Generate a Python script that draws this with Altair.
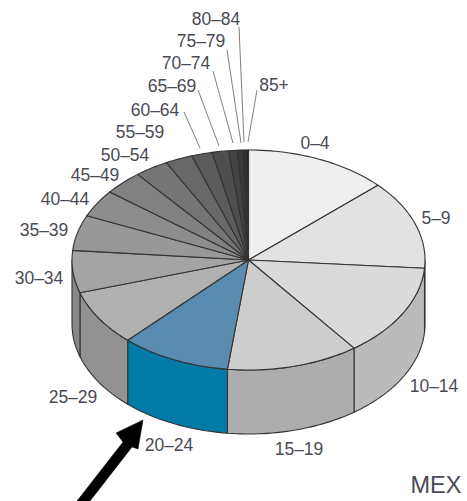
import math
import altair as alt

# Population share by five-year age group (percent of total), clockwise from the top
age_groups = ["0–4", "5–9", "10–14", "15–19", "20–24", "25–29", "30–34", "35–39", "40–44",
              "45–49", "50–54", "55–59", "60–64", "65–69", "70–74", "75–79", "80–84", "85+"]
shares = [13.1, 13.1, 13.6, 12.1, 10.1, 8.2, 6.2, 5.2, 4.0,
          3.6, 3.1, 2.5, 1.9, 1.5, 0.8, 0.5, 0.3, 0.2]

top_colors = ["#efefef", "#e2e2e2", "#dadada", "#cdcdcd", "#5a8cb0", "#b1b1b1", "#a4a4a4",
              "#989898", "#8d8d8d", "#818181", "#757575", "#686868", "#5b5b5b", "#4e4e4e",
              "#434343", "#393939", "#2f2f2f", "#272727"]
side_colors = ["#c4c4c4", "#c4c4c4", "#bbbbbb", "#adadad", "#007ca6", "#929292", "#888888",
               "#808080", "#808080", "#808080", "#808080", "#808080", "#808080", "#808080",
               "#808080", "#808080", "#808080", "#808080"]

# Label anchors in page pixels
label_x = [315, 436, 434, 299, 169, 73, 39, 44, 65, 95, 125, 140, 155, 172, 186, 201, 216, 274]
label_y = [143, 218, 386, 449, 445, 397, 278, 230, 199, 175, 155, 132, 110, 86, 63, 41, 19, 85]

# Leader lines for the narrow slices: label end, rim end
leaders = [
    [[184, 112], [200, 148]],
    [[198, 90], [219, 146]],
    [[213, 71], [233, 143]],
    [[227, 50], [241, 143]],
    [[239, 27], [244, 142]],
    [[257, 90], [248, 142]],
]

arrow_outline = [[143, 420], [116, 433], [123, 442], [77, 501], [90, 501], [132, 447], [138, 449], [143, 420]]

# Pie drawn as an ellipse with a vertical rim
CX, CY, RX, RY, DEPTH = 248.5, 260, 176.5, 110, 64


def rim(deg, drop=0):
    a = math.radians(deg)
    return [CX + RX * math.sin(a), CY - RY * math.cos(a) + drop]


def sweep(a, b, drop=0):
    n = max(2, int(abs(b - a) / 1.5) + 2)
    return [rim(a + (b - a) * i / (n - 1), drop) for i in range(n)]


def feature(kind, coords, **props):
    return {"type": "Feature", "geometry": {"type": kind, "coordinates": coords}, "properties": props}


top_features, side_features = [], []
start = 0.0
total = sum(shares)
for group, share, top, side in zip(age_groups, shares, top_colors, side_colors):
    end = start + share / total * 360
    top_features.append(feature("Polygon", [[[CX, CY]] + sweep(start, end) + [[CX, CY]]], fill=top, group=group))
    a, b = max(start, 90), min(end, 270)
    if a < b:
        upper = sweep(a, b)
        lower = sweep(b, a, DEPTH)
        side_features.append(feature("Polygon", [upper + lower + [upper[0]]], fill=side, group=group))
    start = end

projection = alt.Projection(type="identity", scale=1, translate=[0, 0])


def polygons(features, stroke, width):
    return alt.Chart(alt.Data(values=features)).mark_geoshape(
        stroke=stroke, strokeWidth=width, strokeJoin="round"
    ).encode(fill=alt.Fill("properties.fill:N", scale=None)).project(**projection.to_dict())


sides = polygons(side_features, "#333333", 1.1)
tops = polygons(top_features, "#333333", 1.1)

leader_layer = alt.Chart(alt.Data(values=[feature("LineString", c) for c in leaders])).mark_geoshape(
    filled=False, stroke="#808080", strokeWidth=1
).project(**projection.to_dict())

arrow = alt.Chart(alt.Data(values=[feature("Polygon", [arrow_outline])])).mark_geoshape(
    fill="#000000", stroke="#000000", strokeWidth=0.5
).project(**projection.to_dict())

label_rows = [{"label": t, "lon": x, "lat": y} for t, x, y in zip(age_groups, label_x, label_y)]
labels = alt.Chart(alt.Data(values=label_rows)).mark_text(
    font="Liberation Sans", fontSize=17.5, color="#4a4a55", align="center", baseline="middle", dy=1
).encode(longitude="lon:Q", latitude="lat:Q", text="label:N").project(**projection.to_dict())

country = alt.Chart(alt.Data(values=[{"label": "MEX", "lon": 436, "lat": 485}])).mark_text(
    font="Liberation Sans", fontSize=23.5, color="#4a4a55", align="center", baseline="middle", dy=1
).encode(longitude="lon:Q", latitude="lat:Q", text="label:N").project(**projection.to_dict())

chart = alt.layer(sides, tops, leader_layer, arrow, labels, country).properties(
    width=467, height=501, padding=0, autosize=alt.AutoSizeParams(type="none"), background="#ffffff"
).configure_view(stroke=None)

chart.save("out.html", embed_options={"renderer": "svg", "actions": False})
